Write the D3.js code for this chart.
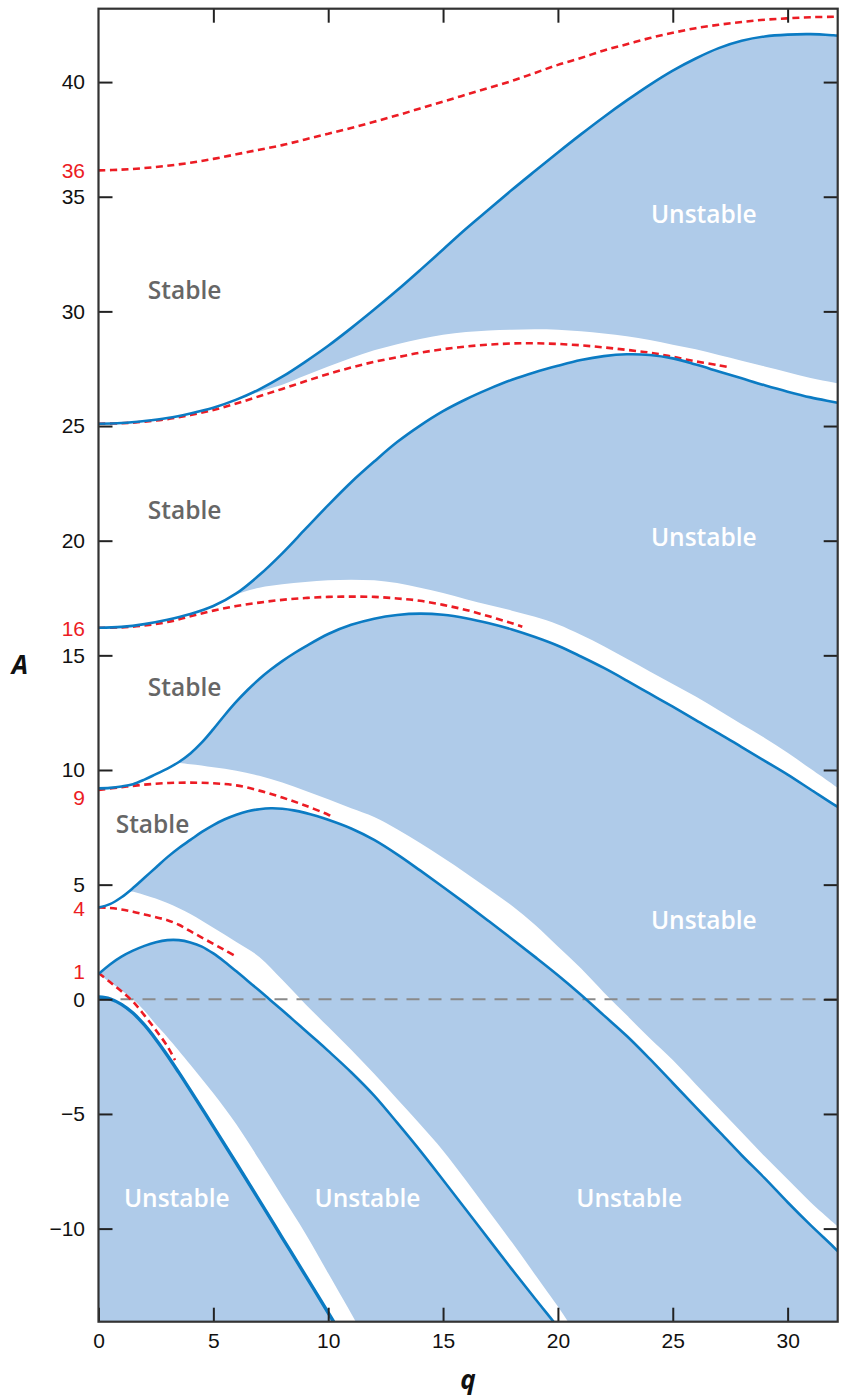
<!DOCTYPE html>
<html><head><meta charset="utf-8">
<script src="https://cdn.jsdelivr.net/npm/d3@7"></script>
<style>html,body{margin:0;padding:0;background:#fff;} svg{display:block;font-family:"Open Sans",sans-serif;}</style>
</head><body><svg id="chart" width="844" height="1399"></svg>
<script>
// ---------- data (q, A) ----------
const qTicks = [0, 5, 10, 15, 20, 25, 30];
const aTicks = [-10, -5, 0, 5, 10, 15, 20, 25, 30, 35, 40];
const redLabels = [36, 16, 9, 4, 1];

// blue characteristic curves a_r
const a0 = [[0,0.1],[0.5,0.02],[1,-0.22],[1.5,-0.6],[2,-1.12],[2.5,-1.75],[3,-2.45],[3.5,-3.2],[4,-3.97],[5,-5.55],[6,-7.15],[7,-8.77],[8,-10.4],[9,-12.03],[10,-13.67],[10.5,-14.5]];
const a1 = [[0,1.1],[0.5,1.52],[1,1.86],[1.5,2.12],[2,2.33],[2.5,2.49],[3,2.58],[3.5,2.58],[4,2.48],[4.5,2.3],[5,2.0],[5.5,1.63],[6,1.22],[6.5,0.8],[7,0.38],[7.5,-0.05],[8,-0.48],[8.5,-0.92],[9,-1.36],[9.5,-1.8],[10,-2.25],[11,-3.18],[12,-4.2],[13,-5.38],[14,-6.6],[15,-7.88],[16,-9.18],[17,-10.48],[18,-11.78],[19,-13.05],[20,-14.3],[20.5,-14.95]];
const a2 = [[0,4.0],[0.5,4.15],[1,4.45],[1.5,4.85],[2,5.3],[2.5,5.75],[3,6.2],[3.5,6.6],[4,6.95],[4.5,7.3],[5,7.6],[5.5,7.85],[6,8.05],[6.5,8.2],[7,8.29],[7.5,8.33],[8,8.31],[8.5,8.24],[9,8.13],[9.5,7.99],[10,7.83],[11,7.45],[12,6.95],[13,6.32],[14,5.62],[15,4.9],[16,4.16],[17,3.4],[18,2.63],[19,1.85],[20,1.05],[21,0.2],[22,-0.7],[23,-1.6],[24,-2.6],[25,-3.65],[26,-4.7],[27,-5.75],[28,-6.8],[29,-7.8],[30,-8.85],[31,-9.85],[32,-10.8],[32.5,-11.3]];
const a3 = [[0,9.2],[0.5,9.22],[1,9.28],[1.5,9.38],[2,9.58],[2.5,9.82],[3,10.06],[3.5,10.35],[4,10.72],[4.5,11.2],[5,11.78],[5.5,12.4],[6,12.98],[6.5,13.5],[7,13.97],[7.5,14.38],[8,14.75],[8.5,15.08],[9,15.38],[10,15.93],[11,16.33],[12,16.6],[13,16.76],[14,16.82],[15,16.77],[16,16.62],[17,16.4],[18,16.13],[19,15.8],[20,15.42],[21,14.95],[22,14.45],[23,13.9],[24,13.33],[25,12.76],[26,12.17],[27,11.6],[28,11.0],[29,10.4],[30,9.8],[31,9.15],[32,8.5],[32.5,8.2]];
const a4 = [[0,16.2],[1,16.24],[2,16.36],[3,16.55],[4,16.8],[5,17.15],[6,17.7],[7,18.5],[8,19.45],[9,20.5],[10,21.55],[11,22.55],[12,23.45],[13,24.3],[14,25.02],[15,25.65],[16,26.17],[17,26.62],[18,27.02],[19,27.35],[20,27.63],[21,27.88],[22,28.05],[23,28.13],[24,28.1],[25,27.95],[26,27.68],[27,27.38],[28,27.08],[29,26.78],[30,26.5],[31,26.25],[32,26.05],[32.5,25.95]];
const a5 = [[0,25.1],[1,25.13],[2,25.22],[3,25.35],[4,25.55],[5,25.8],[6,26.15],[7,26.6],[8,27.15],[9,27.8],[10,28.5],[11,29.27],[12,30.08],[13,30.92],[14,31.8],[15,32.7],[16,33.6],[17,34.45],[18,35.3],[19,36.12],[20,36.93],[21,37.72],[22,38.48],[23,39.2],[24,39.88],[25,40.5],[26,41.03],[27,41.48],[28,41.8],[29,41.99],[30,42.07],[31,42.09],[32,42.04],[32.5,42.0]];

// edges of the stable (white) bands, b_r
const b1Edge = [[0,1.1],[0.5,0.75],[1,0.4],[1.5,0.0],[2,-0.5],[2.5,-1.1],[3,-1.65],[4,-2.85],[5,-4.1],[6,-5.45],[7,-7.0],[8,-8.6],[9,-10.2],[10,-11.95],[11,-13.7],[11.6,-14.8]];
const b2Edge = [[0,4.0],[0.5,4.15],[1,4.45],[1.3,4.69],[2,4.55],[3,4.2],[4,3.72],[5,3.12],[6,2.5],[7,1.85],[8,0.85],[9,-0.2],[10,-1.2],[11,-2.2],[12,-3.25],[13,-4.35],[14,-5.45],[15,-6.6],[16,-7.9],[17,-9.25],[18,-10.6],[19,-12.0],[20,-13.4],[20.5,-14.15],[21,-14.9]];
const b3Edge = [[0,9.2],[0.5,9.22],[1,9.28],[1.5,9.38],[2,9.58],[2.5,9.82],[3,10.06],[3.4,10.29],[4,10.25],[5,10.12],[6,9.97],[7,9.75],[8,9.46],[9,9.1],[10,8.72],[11,8.33],[12,7.95],[13,7.42],[14,6.82],[15,6.17],[16,5.5],[17,4.8],[18,4.08],[19,3.25],[20,2.3],[21,1.35],[22,0.3],[23,-0.7],[24,-1.7],[25,-2.65],[26,-3.7],[27,-4.75],[28,-5.8],[29,-6.85],[30,-7.85],[31,-8.85],[32,-9.75],[32.5,-10.2]];
const b4Edge = [[0,16.2],[1,16.24],[2,16.36],[3,16.55],[4,16.8],[5,17.15],[5.8,17.58],[7,17.95],[8,18.1],[9,18.2],[10,18.27],[11,18.3],[12,18.27],[13,18.15],[14,17.95],[15,17.72],[16,17.45],[17,17.2],[18,16.95],[19,16.68],[20,16.35],[21,15.9],[22,15.4],[23,14.85],[24,14.3],[25,13.75],[26,13.2],[27,12.6],[28,12.0],[29,11.4],[30,10.75],[31,10.05],[32,9.35],[32.5,9.0]];
const b5Edge = [[0,25.1],[1,25.13],[2,25.22],[3,25.35],[4,25.55],[5,25.8],[6,26.15],[7,26.5],[8,26.8],[9,27.2],[10,27.6],[11,27.97],[12,28.3],[13,28.57],[14,28.8],[15,28.98],[16,29.1],[17,29.17],[18,29.2],[19,29.22],[20,29.2],[21,29.13],[22,29.04],[23,28.92],[24,28.75],[25,28.55],[26,28.35],[27,28.1],[28,27.85],[29,27.6],[30,27.35],[31,27.1],[32,26.9],[32.5,26.8]];

// red dashed approximations
const b1Dash = [[0,1.15],[0.5,0.75],[1,0.35],[1.5,-0.1],[2,-0.7],[2.5,-1.35],[3,-2.05],[3.33,-2.65]];
const b2Dash = [[0,4],[0.5,3.98],[1,3.92],[1.5,3.82],[2,3.7],[2.5,3.58],[3,3.45],[3.5,3.25],[4,2.97],[4.5,2.69],[5,2.42],[5.5,2.14],[5.9,1.92]];
const b3Dash = [[0,9.13],[1,9.25],[2,9.36],[3,9.43],[4,9.45],[5,9.42],[6,9.33],[7,9.1],[8,8.8],[9,8.45],[10,8.05],[10.1,8.0]];
const b4Dash = [[0,16.2],[1,16.22],[2,16.3],[3,16.45],[4,16.7],[5,16.95],[6,17.15],[7,17.3],[8,17.42],[9,17.5],[10,17.55],[11,17.56],[12,17.55],[13,17.48],[14,17.38],[15,17.2],[16,16.98],[17,16.7],[18,16.4],[18.45,16.25]];
const b5Dash = [[0,25.1],[1,25.12],[2,25.19],[3,25.3],[4,25.48],[5,25.7],[6,25.98],[7,26.3],[8,26.62],[9,26.95],[10,27.27],[11,27.55],[12,27.8],[13,28.0],[14,28.2],[15,28.35],[16,28.47],[17,28.55],[18,28.6],[19,28.61],[20,28.58],[21,28.52],[22,28.43],[23,28.32],[24,28.2],[25,28.02],[26,27.82],[27,27.65],[27.5,27.55]];
const b6Dash = [[0,36.15],[1,36.18],[2,36.25],[3,36.35],[4,36.48],[5,36.65],[6,36.85],[7,37.05],[8,37.25],[9,37.5],[10,37.75],[11,38.0],[12,38.27],[13,38.55],[14,38.85],[15,39.15],[16,39.45],[17,39.75],[18,40.05],[19,40.4],[20,40.75],[21,41.05],[22,41.38],[23,41.65],[24,41.92],[25,42.15],[26,42.35],[27,42.5],[28,42.62],[29,42.72],[30,42.78],[31,42.83],[32,42.85],[32.2,42.86]];

// region labels (anchor in data units: q centre, A baseline)
const stableLabels = [[3.75,30.54],[3.75,20.95],[3.75,13.23],[2.35,7.27]];
const unstableLabels = [[26.35,33.87],[26.35,19.77],[26.35,3.05],[3.41,-9.07],[11.71,-9.07],[23.1,-9.07]];

// ---------- drawing ----------
const qDomain = [0, 32.18], aDomain = [-14.06, 43.2];
const x = d3.scaleLinear(qDomain, [98.5, 837.7]);
const y = d3.scaleLinear(aDomain, [1321.7, 8.7]);
const svg = d3.select("#chart");
const BLUE_FILL = "#afcbe9", BLUE_LINE = "#0b7bc3", RED = "#ec1c24";
const NUM_FONT = "'Liberation Sans', Arial, sans-serif";

svg.append("defs").append("clipPath").attr("id", "plot").append("rect")
  .attr("x", x(qDomain[0])).attr("y", y(aDomain[1]))
  .attr("width", x(qDomain[1]) - x(qDomain[0]))
  .attr("height", y(aDomain[0]) - y(aDomain[1]));

const g = svg.append("g").attr("clip-path", "url(#plot)");
g.append("rect").attr("x", x(qDomain[0])).attr("y", y(aDomain[1]))
  .attr("width", x(qDomain[1]) - x(qDomain[0]))
  .attr("height", y(aDomain[0]) - y(aDomain[1])).attr("fill", BLUE_FILL);

const line = d3.line().x(d => x(d[0])).y(d => y(d[1])).curve(d3.curveCatmullRom.alpha(0.5));
function region(lower, upper) {
  const p1 = line(lower);
  const p2 = line(upper.slice().reverse());
  return p1 + "L" + p2.slice(1) + "Z";
}
const stablePairs = [[a0, b1Edge], [a1, b2Edge], [a2, b3Edge], [a3, b4Edge], [a4, b5Edge]];
g.selectAll("path.stable").data(stablePairs).join("path").attr("class", "stable")
  .attr("d", d => region(d[0], d[1])).attr("fill", "#fff");
const lastA5 = a5[a5.length - 1];
g.append("path").attr("fill", "#fff")
  .attr("d", line(a5) + `L${x(lastA5[0])},${y(aDomain[1]) - 5}L${x(0)},${y(aDomain[1]) - 5}Z`);

// zero line
g.append("line").attr("x1", x(qDomain[0])).attr("x2", x(qDomain[1]))
  .attr("y1", y(0)).attr("y2", y(0))
  .attr("stroke", "#8a8a8a").attr("stroke-width", 2).attr("stroke-dasharray", "13,9");

// red dashed curves
g.selectAll("path.dash").data([b1Dash, b2Dash, b3Dash, b4Dash, b5Dash, b6Dash]).join("path")
  .attr("class", "dash").attr("d", line).attr("fill", "none")
  .attr("stroke", RED).attr("stroke-width", 2.6).attr("stroke-dasharray", "7,4.5");

// blue curves
g.selectAll("path.acurve").data([a0, a1, a2, a3, a4, a5]).join("path")
  .attr("class", "acurve").attr("d", line).attr("fill", "none")
  .attr("stroke", BLUE_LINE).attr("stroke-width", (d, i) => i === 0 ? 3.4 : 2.6);

// labels
svg.selectAll("text.stable").data(stableLabels).join("text").attr("class", "stable")
  .attr("x", d => x(d[0])).attr("y", d => y(d[1])).attr("text-anchor", "middle")
  .attr("font-size", 24.5).attr("font-weight", 600).attr("fill", "#666").text("Stable");
svg.selectAll("text.unstable").data(unstableLabels).join("text").attr("class", "unstable")
  .attr("x", d => x(d[0])).attr("y", d => y(d[1])).attr("text-anchor", "middle")
  .attr("font-size", 24.5).attr("font-weight", 600).attr("fill", "#fff").text("Unstable");

// axes
function style(sel) {
  sel.select(".domain").remove();
  sel.attr("font-family", NUM_FONT).attr("font-size", 21);
  sel.selectAll(".tick line").attr("stroke", "#222").attr("stroke-width", 2);
  sel.selectAll(".tick text").attr("fill", "#111");
}
const fmt = d3.format("d");
svg.append("g").attr("transform", `translate(${x(0)},0)`)
  .call(d3.axisLeft(y).tickValues(aTicks).tickSize(-14).tickPadding(13.5).tickFormat(fmt)).call(style);
svg.append("g").attr("transform", `translate(${x(qDomain[1])},0)`)
  .call(d3.axisRight(y).tickValues(aTicks).tickSize(-14).tickFormat("")).call(style);
svg.append("g").attr("transform", `translate(0,${y(aDomain[0])})`)
  .call(d3.axisBottom(x).tickValues(qTicks).tickSize(-14).tickPadding(11.5).tickFormat(fmt)).call(style);
svg.append("g").attr("transform", `translate(0,${y(aDomain[1])})`)
  .call(d3.axisTop(x).tickValues(qTicks.filter(v => v > 0)).tickSize(-14).tickFormat("")).call(style);

// frame
svg.append("rect").attr("x", x(qDomain[0])).attr("y", y(aDomain[1]))
  .attr("width", x(qDomain[1]) - x(qDomain[0])).attr("height", y(aDomain[0]) - y(aDomain[1]))
  .attr("fill", "none").attr("stroke", "#333").attr("stroke-width", 2.2);

// red level labels (small vertical nudges as in the reference)
const nudge = {36: -2.2, 16: -3, 9: 5, 4: 1.8, 1: -4};
svg.selectAll("text.red").data(redLabels).join("text").attr("class", "red")
  .attr("x", x(0) - 13.5).attr("y", d => y(d) + (nudge[d] || 0)).attr("dy", "0.32em")
  .attr("text-anchor", "end").attr("font-family", NUM_FONT).attr("font-size", 21).attr("fill", RED).text(d => d);

// axis titles
svg.append("text").attr("x", 20).attr("y", 674).attr("text-anchor", "middle")
  .attr("font-size", 26).attr("font-weight", "bold").attr("font-style", "italic").attr("fill", "#111").text("A");
svg.append("text").attr("x", 468).attr("y", 1389).attr("text-anchor", "middle")
  .attr("font-size", 26).attr("font-weight", "bold").attr("font-style", "italic").attr("fill", "#111").text("q");
</script></body></html>
